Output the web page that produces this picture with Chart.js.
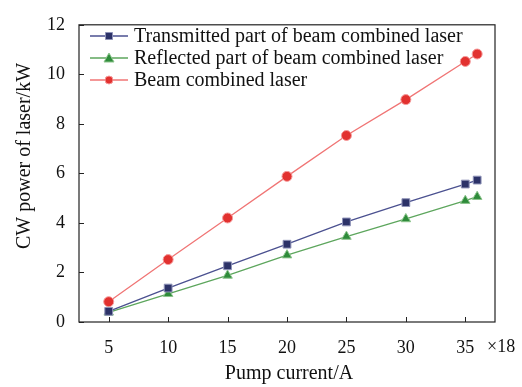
<!DOCTYPE html>
<html>
<head>
<meta charset="utf-8">
<script src="https://cdn.jsdelivr.net/npm/chart.js@4.4.0/dist/chart.umd.min.js"></script>
<style>
html,body{margin:0;padding:0;background:#fff;}
#wrap{width:522px;height:387px;}
</style>
</head>
<body>
<div id="wrap"><canvas id="c" width="522" height="387"></canvas></div>
<script>
const currents = [5, 10, 15, 20, 25, 30, 35, 36];
const transmitted = [0.43, 1.37, 2.27, 3.14, 4.04, 4.82, 5.57, 5.73];
const reflected = [0.39, 1.14, 1.88, 2.70, 3.45, 4.16, 4.90, 5.06];
const combined = [0.82, 2.52, 4.20, 5.88, 7.53, 8.98, 10.52, 10.82];
const xTickValues = [5, 10, 15, 20, 25, 30, 35];
const yTickValues = [0, 2, 4, 6, 8, 10, 12];
const seriesNames = ['Transmitted part of beam combined laser', 'Reflected part of beam combined laser', 'Beam combined laser'];
const xTitle = 'Pump current/A';
const yTitle = 'CW power of laser/kW';
const xMultiplier = '\u00d718';

const FONT = '"Liberation Serif", "Times New Roman", serif';
const styles = [
  {line:'#4b5190', fill:'#2c3268', border:'#8f93b8', shape:'rect', r:5.5},
  {line:'#5da65d', fill:'#2e8b3a', border:'#8cc48c', shape:'triangle', r:5.5},
  {line:'#f07575', fill:'#e2312f', border:'#f59a9a', shape:'circle', r:5}
];
const seriesData = [transmitted, reflected, combined];

const datasets = seriesData.map((arr, i) => ({
  label: seriesNames[i],
  data: currents.map((x, j) => ({x: x, y: arr[j]})),
  borderColor: styles[i].line,
  borderWidth: 1.3,
  pointStyle: styles[i].shape,
  pointRadius: styles[i].r,
  pointBackgroundColor: styles[i].fill,
  pointBorderColor: styles[i].border,
  pointBorderWidth: 1,
  tension: 0
}));

const framePlugin = {
  id: 'frame',
  afterDraw(chart) {
    const {ctx, chartArea: a, scales} = chart;
    ctx.save();
    ctx.strokeStyle = '#222';
    ctx.lineWidth = 1.2;
    ctx.strokeRect(a.left, a.top, a.right - a.left, a.bottom - a.top);
    ctx.lineWidth = 1;
    xTickValues.forEach(v => {
      const px = Math.round(scales.x.getPixelForValue(v)) + 0.5;
      ctx.beginPath(); ctx.moveTo(px, a.bottom); ctx.lineTo(px, a.bottom - 5); ctx.stroke();
    });
    yTickValues.forEach(v => {
      const py = Math.round(scales.y.getPixelForValue(v)) + 0.5;
      ctx.beginPath(); ctx.moveTo(a.left, py); ctx.lineTo(a.left + 5, py); ctx.stroke();
    });
    ctx.fillStyle = '#111';
    ctx.font = '18px ' + FONT;
    ctx.textAlign = 'left';
    ctx.textBaseline = 'middle';
    ctx.fillText(xMultiplier, 487, 347);
    // axis titles
    ctx.font = '20px ' + FONT;
    ctx.textAlign = 'center';
    ctx.fillText(xTitle, 289, 374);
    ctx.save();
    ctx.translate(25, 156);
    ctx.rotate(-Math.PI / 2);
    ctx.fillText(yTitle, 0, 0);
    ctx.restore();
    // legend
    const lx0 = a.left + 11, lx1 = a.left + 49, tx = a.left + 55;
    const rows = [36, 58, 80];
    ctx.textAlign = 'left';
    ctx.font = '20px ' + FONT;
    seriesNames.forEach((name, i) => {
      const s = styles[i];
      const y = rows[i];
      ctx.strokeStyle = s.line; ctx.lineWidth = 1.3;
      ctx.beginPath(); ctx.moveTo(lx0, y); ctx.lineTo(lx1, y); ctx.stroke();
      ctx.fillStyle = s.fill; ctx.strokeStyle = s.border; ctx.lineWidth = 1;
      const cx = (lx0 + lx1) / 2;
      ctx.beginPath();
      if (s.shape === 'rect') { ctx.rect(cx - 3.5, y - 3.5, 7, 7); }
      else if (s.shape === 'triangle') { ctx.moveTo(cx, y - 5); ctx.lineTo(cx + 5, y + 4); ctx.lineTo(cx - 5, y + 4); ctx.closePath(); }
      else { ctx.arc(cx, y, 4, 0, Math.PI * 2); }
      ctx.fill(); ctx.stroke();
      ctx.fillStyle = '#111';
      ctx.fillText(name, tx, y + 1);
    });
    ctx.restore();
  }
};

new Chart(document.getElementById('c'), {
  type: 'line',
  data: {datasets: datasets},
  options: {
    responsive: false,
    animation: false,
    layout: {padding: {top: 16, right: 27, left: 0, bottom: 0}},
    plugins: {legend: {display: false}, tooltip: {enabled: false}},
    scales: {
      x: {
        type: 'linear', min: 2.5, max: 37.5,
        afterBuildTicks: s => { s.ticks = xTickValues.map(v => ({value: v})); },
        afterFit: s => { s.height = 65; },
        grid: {display: false, drawTicks: false},
        border: {display: false},
        ticks: {padding: 15, color: '#111', font: {family: FONT, size: 18}, maxRotation: 0},
        title: {display: false}
      },
      y: {
        min: 0, max: 12,
        afterBuildTicks: s => { s.ticks = yTickValues.map(v => ({value: v})); },
        afterFit: s => { s.width = 79; },
        grid: {display: false, drawTicks: false},
        border: {display: false},
        ticks: {padding: 14, color: '#111', font: {family: FONT, size: 18}},
        title: {display: false}
      }
    }
  },
  plugins: [framePlugin]
});
</script>
</body>
</html>
